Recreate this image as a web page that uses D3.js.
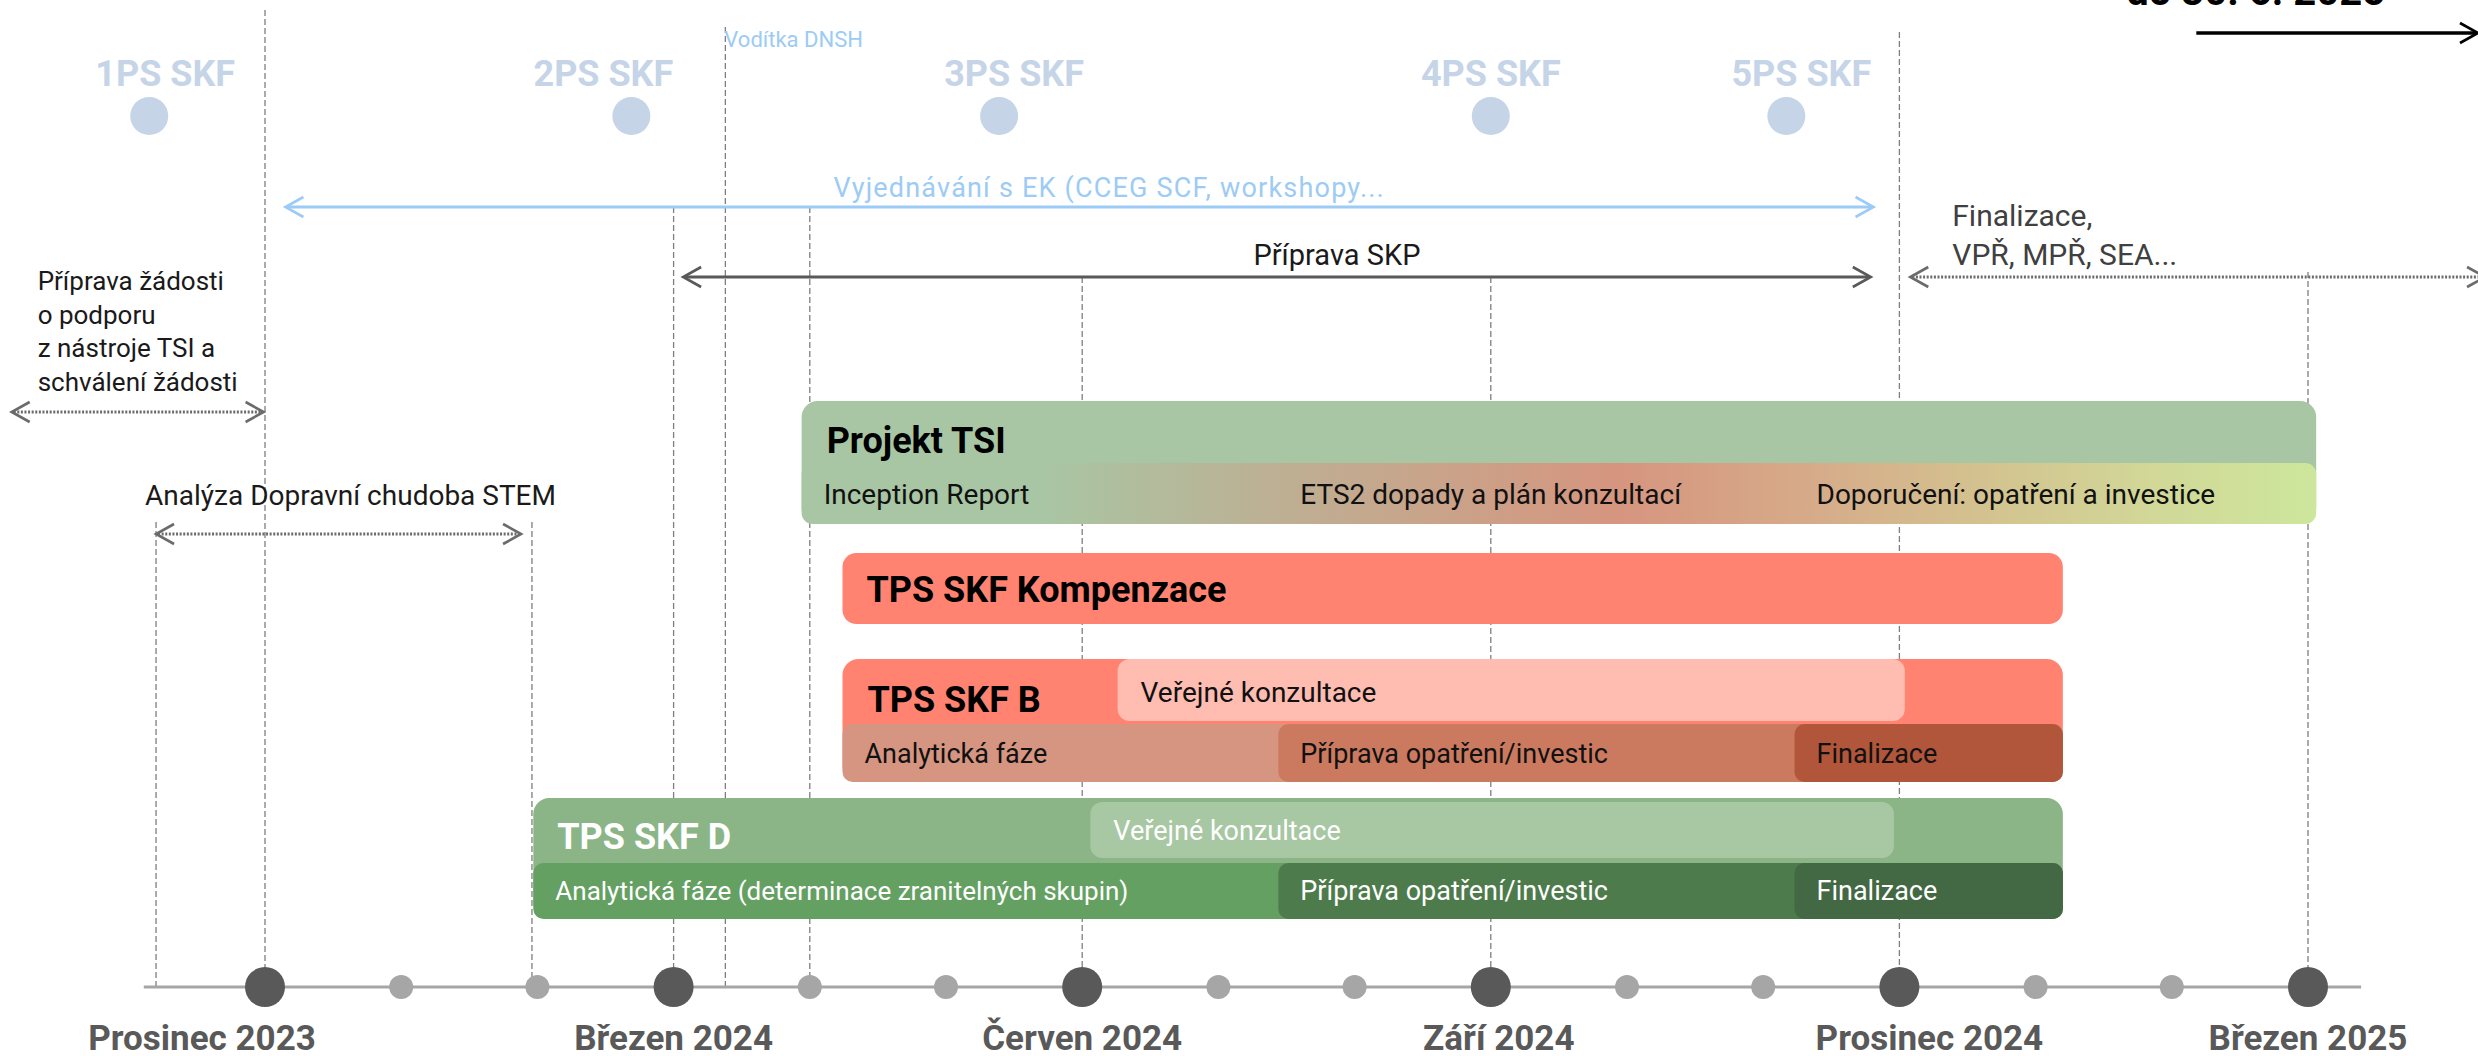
<!DOCTYPE html>
<html>
<head>
<meta charset="utf-8">
<script src="https://cdn.jsdelivr.net/npm/d3@7"></script>
<style>
  body { margin: 0; background: #fff; }
  svg { display: block; font-family: Roboto, "Noto Sans", sans-serif; }
</style>
</head>
<body>
<div id="chart"></div>
<script>
// timeline months, index 0 = prosinec 2023
const months = ['Prosinec 2023', 'Leden 2024', 'Únor 2024', 'Březen 2024', 'Duben 2024', 'Květen 2024',
  'Červen 2024', 'Červenec 2024', 'Srpen 2024', 'Září 2024', 'Říjen 2024', 'Listopad 2024',
  'Prosinec 2024', 'Leden 2025', 'Únor 2025', 'Březen 2025']
const labelledMonths = [0, 3, 6, 9, 12, 15]

// meetings of the SKF working group
const milestones = ['1PS SKF', '2PS SKF', '3PS SKF', '4PS SKF', '5PS SKF']
const milestoneAt = [-0.85, 2.69, 5.39, 9.0, 11.17]

// dashed guides (month) and the row they start from
const guideAt = [-0.8, 0, 1.96, 3, 3.38, 4, 6, 9, 12, 15]
const guideFrom = ['stem', 'top', 'stem', 'vyj', 'dnsh', 'vyj', 'skp', 'skp', 'dec', 'fin']

// spans drawn as arrows
const spanNames = ['Vyjednávání s EK (CCEG SCF, workshopy...', 'Příprava SKP', 'Finalizace,\nVPŘ, MPŘ, SEA...',
  'Příprava žádosti\no podporu\nz nástroje TSI a\nschválení žádosti', 'Analýza Dopravní chudoba STEM']
const spanStart = [0.15, 3.07, 12.08, -1.86, -0.8]
const spanEnd = [11.81, 11.79, 16.3, -0.01, 1.88]

const deadline = 'do 30. 6. 2025'
const deadlineStart = 14.18

// project bars
const projects = ['Projekt TSI', 'TPS SKF Kompenzace', 'TPS SKF B', 'TPS SKF D']
const projectStart = [3.94, 4.24, 4.24, 1.97]
const projectEnd = [15.06, 13.2, 13.2, 13.2]

const tsiPhases = ['Inception Report', 'ETS2 dopady a plán konzultací', 'Doporučení: opatření a investice']
const tsiPhaseStart = [3.94, 7.44, 11.23]

const phasesB = ['Analytická fáze', 'Příprava opatření/investic', 'Finalizace']
const phaseStartB = [4.24, 7.44, 11.23]
const phasesD = ['Analytická fáze (determinace zranitelných skupin)', 'Příprava opatření/investic', 'Finalizace']
const phaseStartD = [1.97, 7.44, 11.23]

const consultLabel = 'Veřejné konzultace'
const consultB = [6.26, 12.04]
const consultD = [6.06, 11.96]

const guideLabel = 'Vodítka DNSH'

const W = 2478, H = 1056
const axisY = 987
const rowY = { top: 10, dnsh: 27, dec: 32, vyj: 207, skp: 277, fin: 272, stem: 522 }
// hand nudges of labels, px
const milestoneNudge = [16, -28, 15, 0, 15]
const monthNudge = { 0: -63, 9: 8, 12: 30 }

const x = d3.scaleLinear().domain([0, 15]).range([265, 2308])

const svg = d3.select('#chart').append('svg')
  .attr('width', W)
  .attr('height', H)

const defs = svg.append('defs')
const grad = defs.append('linearGradient')
  .attr('id', 'tsiGrad')
  .attr('gradientUnits', 'userSpaceOnUse')
  .attr('x1', x(projectStart[0])).attr('x2', x(projectEnd[0]))
  .attr('y1', 0).attr('y2', 0)
const gradStops = [[0, '#a8c6a4'], [0.156, '#a8c6a4'], [0.31, '#bdb094'], [0.54, '#d6957f'],
  [0.672, '#d6ac8a'], [0.79, '#d3c490'], [0.9, '#d1d998'], [1, '#cde69c']]
grad.selectAll('stop').data(gradStops).join('stop')
  .attr('offset', d => d[0])
  .attr('stop-color', d => d[1])

// dashed guides
svg.append('g').selectAll('line')
  .data(guideAt.map((m, i) => ({ m, from: guideFrom[i] })))
  .join('line')
  .attr('x1', d => x(d.m)).attr('x2', d => x(d.m))
  .attr('y1', d => rowY[d.from]).attr('y2', axisY)
  .attr('stroke', '#7f7f7f')
  .attr('stroke-width', 1.3)
  .attr('stroke-dasharray', '6,3')

svg.append('text')
  .attr('x', x(3.38) - 1).attr('y', 47)
  .attr('fill', '#9ccbf5')
  .style('font-size', '22px')
  .text(guideLabel)

// milestones
const ms = svg.append('g')
ms.selectAll('circle').data(milestoneAt).join('circle')
  .attr('cx', d => x(d)).attr('cy', 116).attr('r', 19)
  .attr('fill', '#c5d4e7')
ms.selectAll('text').data(milestones).join('text')
  .attr('x', (d, i) => x(milestoneAt[i]) + milestoneNudge[i]).attr('y', 86)
  .attr('text-anchor', 'middle')
  .attr('fill', '#c5d4e7')
  .style('font-size', '36px').style('font-weight', 700)
  .text(d => d)

// arrows
const drawArrow = (x1, x2, y, color, width, dotted, heads) => {
  const g = svg.append('g').attr('stroke', color).attr('fill', 'none')
  g.append('line')
    .attr('x1', x1 + (heads.left ? 2 : 0)).attr('x2', x2 - 2)
    .attr('y1', y).attr('y2', y)
    .attr('stroke-width', width)
    .attr('stroke-dasharray', dotted ? '2,1.6' : null)
  const a = 18, b = 10
  if (heads.left) g.append('path').attr('d', `M${x1 + a},${y - b}L${x1},${y}L${x1 + a},${y + b}`).attr('stroke-width', 2.6)
  g.append('path').attr('d', `M${x2 - a},${y - b}L${x2},${y}L${x2 - a},${y + b}`).attr('stroke-width', 2.6)
}

const multiline = (str, x0, y0, lh, anchor, color, size) => {
  const t = svg.append('text')
    .attr('x', x0).attr('y', y0)
    .attr('text-anchor', anchor)
    .attr('fill', color)
    .style('font-size', size + 'px')
  str.split('\n').forEach((s, i) => {
    t.append('tspan').attr('x', x0).attr('dy', i ? lh : 0).text(s)
  })
}

// Vyjednávání
drawArrow(x(spanStart[0]), x(spanEnd[0]), rowY.vyj, '#9ccbf5', 3, false, { left: true })
svg.append('text')
  .attr('x', x(spanStart[0]) + 548).attr('y', 197)
  .attr('fill', '#9ccbf5')
  .style('font-size', '27px').style('letter-spacing', '1.2px')
  .text(spanNames[0])

// Příprava SKP
drawArrow(x(spanStart[1]), x(spanEnd[1]), rowY.skp, '#595959', 3, false, { left: true })
svg.append('text')
  .attr('x', (x(spanStart[1]) + x(spanEnd[1])) / 2 + 60).attr('y', 265)
  .attr('text-anchor', 'middle').attr('fill', '#1a1a1a')
  .style('font-size', '29px')
  .text(spanNames[1])

// Finalizace
drawArrow(x(spanStart[2]), x(spanEnd[2]), rowY.skp, '#6b6b6b', 3, true, { left: true })
multiline(spanNames[2], x(spanStart[2]) + 42, 226, 39, 'start', '#404040', 30)

// Příprava žádosti
drawArrow(x(spanStart[3]), x(spanEnd[3]), 412, '#6b6b6b', 3, true, { left: true })
multiline(spanNames[3], x(spanStart[3]) + 26, 290, 33.5, 'start', '#1a1a1a', 26)

// Analýza STEM
drawArrow(x(spanStart[4]), x(spanEnd[4]), 534, '#6b6b6b', 3, true, { left: true })
svg.append('text')
  .attr('x', (x(spanStart[4]) + x(spanEnd[4])) / 2 + 12).attr('y', 505)
  .attr('text-anchor', 'middle').attr('fill', '#1a1a1a')
  .style('font-size', '28px')
  .text(spanNames[4])

// deadline
drawArrow(x(deadlineStart), W, 33, '#000', 3.5, false, { left: false })
svg.append('text')
  .attr('x', x(deadlineStart) - 70).attr('y', 5)
  .attr('fill', '#000')
  .style('font-size', '40px').style('font-weight', 700)
  .text(deadline)

// bars
const bars = svg.append('g')
const rrect = (m0, m1, y, h, r, fill) => bars.append('rect')
  .attr('x', x(m0)).attr('width', x(m1) - x(m0))
  .attr('y', y).attr('height', h)
  .attr('rx', r).attr('ry', r)
  .attr('fill', fill)
const label = (px, y, str, color, size, bold) => bars.append('text')
  .attr('x', px).attr('y', y)
  .attr('fill', color)
  .style('font-size', size + 'px')
  .style('font-weight', bold ? 700 : 400)
  .text(str)

// Projekt TSI
rrect(projectStart[0], projectEnd[0], 401, 123, 16, '#a8c6a4')
rrect(projectStart[0], projectEnd[0], 463, 61, 11, 'url(#tsiGrad)')
label(x(projectStart[0]) + 25, 453, projects[0], '#000', 36, true)
tsiPhases.forEach((p, i) => label(x(tsiPhaseStart[i]) + 22, 504, p, '#111', 28, false))

// TPS SKF Kompenzace
rrect(projectStart[1], projectEnd[1], 553, 71, 14, '#ff8370')
label(x(projectStart[1]) + 24, 602, projects[1], '#000', 36, true)

// TPS SKF B
const colB = ['#d69581', '#cb7a5f', '#b1563a']
rrect(projectStart[2], projectEnd[2], 659, 123, 16, '#ff8370')
rrect(consultB[0], consultB[1], 659, 62, 12, '#ffbcb1')
label(x(consultB[0]) + 23, 702, consultLabel, '#111', 28, false)
phasesB.forEach((p, i) => {
  rrect(phaseStartB[i], projectEnd[2], 724, 58, 10, colB[i])
  label(x(phaseStartB[i]) + 22, 763, p, '#111', 27, false)
})
label(x(projectStart[2]) + 25, 712, projects[2], '#000', 36, true)

// TPS SKF D
const colD = ['#65a063', '#4e7b4c', '#426943']
rrect(projectStart[3], projectEnd[3], 798, 121, 16, '#8bb587')
rrect(consultD[0], consultD[1], 802, 56, 12, '#a8c7a3')
label(x(consultD[0]) + 23, 840, consultLabel, '#fff', 27, false)
phasesD.forEach((p, i) => {
  rrect(phaseStartD[i], projectEnd[3], 863, 56, 10, colD[i])
  label(x(phaseStartD[i]) + 22, 900, p, '#fff', i ? 27 : 26, false)
})
label(x(projectStart[3]) + 24, 849, projects[3], '#fff', 36, true)

// timeline axis
const ax = svg.append('g')
ax.append('line')
  .attr('x1', x(-0.89)).attr('x2', x(15.39))
  .attr('y1', axisY).attr('y2', axisY)
  .attr('stroke', '#a6a6a6').attr('stroke-width', 3)
ax.selectAll('circle').data(months).join('circle')
  .attr('cx', (d, i) => x(i)).attr('cy', axisY)
  .attr('r', (d, i) => labelledMonths.includes(i) ? 20 : 12)
  .attr('fill', (d, i) => labelledMonths.includes(i) ? '#595959' : '#a6a6a6')
ax.selectAll('text').data(labelledMonths).join('text')
  .attr('x', d => x(d) + (monthNudge[d] || 0)).attr('y', 1050)
  .attr('text-anchor', 'middle')
  .attr('fill', '#595959')
  .style('font-size', '35px').style('font-weight', 700)
  .text(d => months[d])
</script>
</body>
</html>
